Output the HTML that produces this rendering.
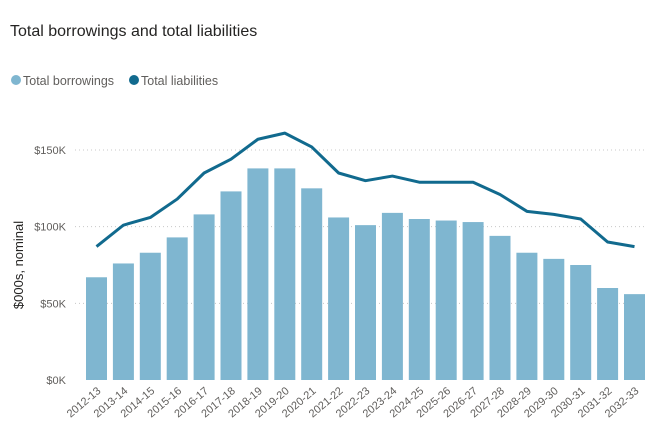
<!DOCTYPE html>
<html><head><meta charset="utf-8"><style>
body{margin:0;background:#fff;width:645px;height:435px;overflow:hidden;font-family:"Liberation Sans",sans-serif}
</style></head><body>
<svg id="chart" width="645" height="435" xmlns="http://www.w3.org/2000/svg">
<text x="10" y="36" font-size="16" fill="#252423">Total borrowings and total liabilities</text>
<g>
<circle cx="16" cy="80" r="5" fill="#7fb6d0"/>
<text x="23" y="85" font-size="12.5" fill="#605e5c">Total borrowings</text>
<circle cx="134" cy="80" r="5" fill="#116a8e"/>
<text x="141" y="85" font-size="12.5" fill="#605e5c">Total liabilities</text>
</g>
<text transform="translate(23,265) rotate(-90)" text-anchor="middle" font-size="13" fill="#252423">$000s, nominal</text>
<g id="grid"></g><g id="bars"></g><g id="line"></g><g id="xlabels"></g>
</svg>
<script>
const categories=["2012-13","2013-14","2014-15","2015-16","2016-17","2017-18","2018-19","2019-20","2020-21","2021-22","2022-23","2023-24","2024-25","2025-26","2026-27","2027-28","2028-29","2029-30","2030-31","2031-32","2032-33"];
const borrowings=[67,76,83,93,108,123,138,138,125,106,101,109,105,104,103,94,83,79,75,60,56];
const liabilities=[87,101,106,118,135,144,157,161,152,135,130,133,129,129,129,121,110,108,105,90,87];
const yTicks=[0,50,100,150];
const yTickLabels=["$0K","$50K","$100K","$150K"];
const NS="http://www.w3.org/2000/svg";
const y0=380,yScale=230/150,x0=86,step=26.9,bw=21;
function y(v){return y0-v*yScale;}
function xc(i){return x0+i*step+bw/2;}
function mk(tag,attrs,parent){const e=document.createElementNS(NS,tag);for(const k in attrs)e.setAttribute(k,attrs[k]);document.getElementById(parent).appendChild(e);return e;}
yTicks.forEach((t,i)=>{
 if(t>0){const l=mk('line',{x1:75,x2:645,y1:y(t),y2:y(t),stroke:'#c8c8c8','stroke-dasharray':'1 3','stroke-width':1},'grid');
 
 }
 const tx=mk('text',{x:66,y:y(t)+4,'text-anchor':'end','font-size':11,fill:'#605e5c'},'grid');
 tx.textContent=yTickLabels[i];
 
 
});
borrowings.forEach((v,i)=>{
 const r=mk('rect',{x:x0+i*step,y:y(v),width:bw,height:v*yScale,fill:'#7fb6d0'},'bars');
 
 
});
const p=mk('polyline',{points:liabilities.map((v,i)=>xc(i)+','+y(v)).join(' '),fill:'none',stroke:'#116a8e','stroke-width':3,'stroke-linejoin':'round'},'line');


categories.forEach((c,i)=>{
 const t=mk('text',{transform:'translate('+(xc(i)+5)+',392) rotate(-40)','text-anchor':'end','font-size':11,fill:'#605e5c'},'xlabels');
 t.textContent=c;
 
 
});
</script>
</body></html>
